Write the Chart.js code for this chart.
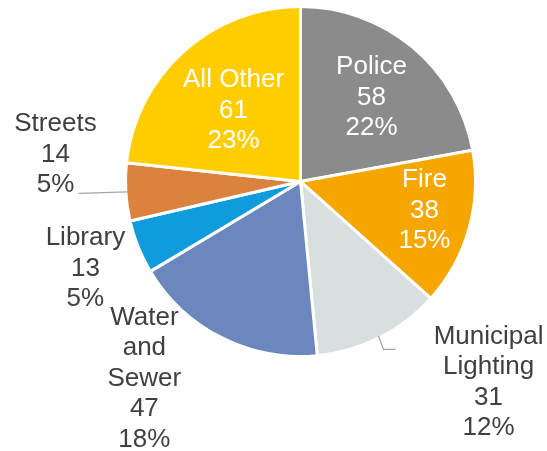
<!DOCTYPE html>
<html>
<head>
<meta charset="utf-8">
<script src="https://cdn.jsdelivr.net/npm/chart.js@4"></script>
<style>
	html, body { margin: 0; padding: 0; background: #fff; }
	#wrap { width: 547px; height: 451px; }
</style>
</head>
<body>
<div id="wrap"><canvas id="budgetPie"></canvas></div>
<script>
// Data
const categories = [ 'Police', 'Fire', 'Municipal Lighting', 'Water and Sewer', 'Library', 'Streets', 'All Other' ];
const amounts = [ 58, 38, 31, 47, 13, 14, 61 ];
const sliceColors = [ '#8b8b8b', '#f5a700', '#d9dee1', '#6c87be', '#0f9cdc', '#db823f', '#ffcd00' ];

// How each label is split into lines
const labelLines = [
	[ 'Police' ], [ 'Fire' ], [ 'Municipal', 'Lighting' ], [ 'Water', 'and', 'Sewer' ],
	[ 'Library' ], [ 'Streets' ], [ 'All Other' ]
];

// Label placement: angle (deg from top, clockwise) and distance as a share of the radius
const labelPlace = [
	{ a: 40.2, d: 0.636, inside: true },
	{ a: 103.2, d: 0.736, inside: true },
	{ a: 136.9, d: 1.591, leader: [ [ -105, -33 ], [ -93, -33 ] ] },
	{ a: 218.4, d: 1.453 },
	{ a: 248.0, d: 1.341 },
	{ a: 276.3, d: 1.425, leader: [ [ 23, 39 ] ] },
	{ a: 316.7, d: 0.564, inside: true }
];

const total = amounts.reduce( ( s, v ) => s + v, 0 );

const pieLabels = {
	id: 'pieLabels',
	afterDatasetsDraw( chart ) {
		const ctx = chart.ctx;
		const meta = chart.getDatasetMeta( 0 );
		ctx.save();
		ctx.font = '26px "Liberation Sans", Arial, sans-serif';
		ctx.textAlign = 'center';
		ctx.textBaseline = 'middle';
		const lineH = 30.5;
		const r0 = 173; // radius the placements were measured against

		meta.data.forEach( function ( arc, i ) {
			const p = arc.getProps( [ 'x', 'y', 'startAngle', 'endAngle', 'outerRadius' ], true );
			const place = labelPlace[ i ];
			const ang = ( place.a - 90 ) * Math.PI / 180;
			const lx = p.x + Math.cos( ang ) * place.d * r0;
			const ly = p.y + Math.sin( ang ) * place.d * r0;

			// Leader line from the middle of the slice's outer edge
			if ( place.leader ) {
				const mid = ( p.startAngle + p.endAngle ) / 2;
				ctx.beginPath();
				ctx.strokeStyle = '#a6a6a6';
				ctx.lineWidth = 1.3;
				ctx.moveTo( p.x + Math.cos( mid ) * r0, p.y + Math.sin( mid ) * r0 );
				place.leader.forEach( function ( pt ) {
					ctx.lineTo( lx + pt[ 0 ], ly + pt[ 1 ] );
				} );
				ctx.stroke();
			}

			const pct = Math.round( amounts[ i ] / total * 100 ) + '%';
			const lines = labelLines[ i ].concat( [ String( amounts[ i ] ), pct ] );
			ctx.fillStyle = place.inside ? '#ffffff' : '#404040';
			const top = ly - ( lines.length - 1 ) * lineH / 2;
			lines.forEach( function ( t, k ) {
				ctx.fillText( t, lx, top + k * lineH );
			} );
		} );
		ctx.restore();
	}
};

new Chart( document.getElementById( 'budgetPie' ), {
	type: 'pie',
	data: {
		labels: categories,
		datasets: [ {
			data: amounts,
			backgroundColor: sliceColors,
			borderColor: '#ffffff',
			borderWidth: 3
		} ]
	},
	options: {
		responsive: true,
		maintainAspectRatio: false,
		animation: false,
		layout: { padding: { left: 124, right: 70, top: 5, bottom: 93 } },
		plugins: {
			legend: { display: false },
			tooltip: { enabled: false }
		}
	},
	plugins: [ pieLabels ]
} );
</script>
</body>
</html>
